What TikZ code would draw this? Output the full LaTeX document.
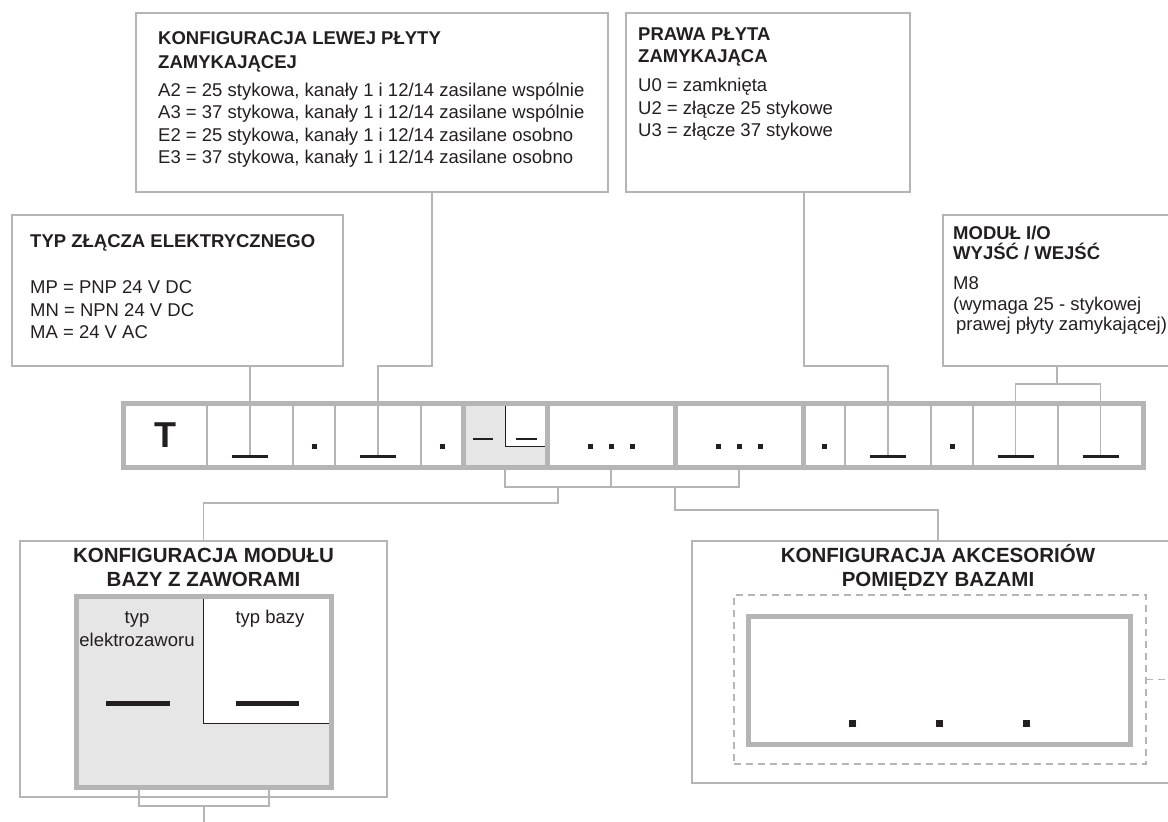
\documentclass[tikz,border=0pt]{standalone}
\usepackage{fontspec}
\setmainfont{Liberation Sans}
\definecolor{LineGray}{HTML}{B5B5B5}
\definecolor{FillGray}{HTML}{E6E6E6}
\definecolor{InkBlack}{HTML}{231F20}
\usetikzlibrary{positioning, calc}
\tikzset{
    % Frames
    infobox/.style={
        rectangle,
        draw=LineGray,
        line width=1.6pt,
        inner sep=0pt,
        outer sep=0pt,
        anchor=north west
    },
    thickframe/.style={
        infobox,
        line width=5pt
    },
    dashframe/.style={
        infobox,
        line width=1.5pt,
        dash pattern=on 7pt off 5pt
    },
    % Texts (placed by the baseline of their last line)
    boxtext/.style={
        inner sep=0pt,
        anchor=base west,
        align=left,
        text=InkBlack,
        font=\fontsize{18.5}{22.5}\selectfont
    },
    boxtitle/.style={
        inner sep=0pt,
        anchor=base,
        align=center,
        text=InkBlack,
        font=\fontsize{20.5}{24}\selectfont\bfseries
    },
    % Code cells
    cell/.style={
        rectangle,
        draw=LineGray,
        line width=1.3pt,
        inner sep=0pt,
        outer sep=0pt,
        minimum height=63.5pt,
        text=InkBlack,
        font=\fontsize{36}{36}\selectfont\bfseries
    },
    graycell/.style={
        cell,
        fill=FillGray
    },
    groupframe/.style={
        draw=LineGray,
        line width=5pt
    },
    conn/.style={
        draw=LineGray,
        line width=1.6pt
    },
    blank/.style={
        draw=InkBlack,
        line width=2.6pt
    },
    thinink/.style={
        draw=InkBlack,
        line width=0.9pt
    }
}

\begin{document}
\begin{tikzpicture}[x=1pt, y=-1pt]
    \useasboundingbox (0,0) rectangle (1168,822);
    \clip (0,0) rectangle (1168,822);

    % Top boxes
    \node[infobox, minimum width=472, minimum height=179] (lewa) at (136,13) {};
    \node[boxtext] (lewatxt) at (158,163.5) {
        \textbf{KONFIGURACJA LEWEJ PŁYTY}\\[1.5pt]
        \textbf{ZAMYKAJĄCEJ}\\[5.5pt]
        A2 = 25 stykowa, kanały 1 i 12/14 zasilane wspólnie\\
        A3 = 37 stykowa, kanały 1 i 12/14 zasilane wspólnie\\
        E2 = 25 stykowa, kanały 1 i 12/14 zasilane osobno\\
        E3 = 37 stykowa, kanały 1 i 12/14 zasilane osobno
    };

    \node[infobox, minimum width=284, minimum height=179] (prawa) at (626,13) {};
    \node[boxtext] (prawatxt) at (638,136.5) {
        \textbf{PRAWA PŁYTA}\\
        \textbf{ZAMYKAJĄCA}\\[6.5pt]
        U0 = zamknięta\\
        U2 = złącze 25 stykowe\\
        U3 = złącze 37 stykowe
    };

    \node[infobox, minimum width=331, minimum height=151] (typ) at (12,215) {};
    \node[boxtext] (typtxt) at (30,338.5) {
        \textbf{TYP ZŁĄCZA ELEKTRYCZNEGO}\\[23.5pt]
        MP = PNP 24 V DC\\
        MN = NPN 24 V DC\\
        MA = 24 V AC
    };

    \node[infobox, minimum width=260, minimum height=151] (modul) at (943,215) {};
    \node[boxtext, font=\fontsize{18.5}{20.5}\selectfont] (modultxt) at (953,330.5) {
        \textbf{MODUŁ I/O}\\
        \textbf{WYJŚĆ / WEJŚĆ}\\[9.5pt]
        M8\\
        (wymaga 25 - stykowej\\
        \hspace*{3pt}prawej płyty zamykającej)
    };

    % Code bar
    \node[cell, minimum width=83.5] (c1) at (165.25,435.25) {T};
    \foreach \i/\xa/\xb/\st in {2/207/293/cell, 3/293/335/cell, 4/335/421/cell,
        5/421/463/cell, 6/463/547/graycell, 7/547/675/cell, 8/675/803/cell,
        9/803/845/cell, 10/845/931/cell, 11/931/973/cell, 12/973/1058/cell,
        13/1058/1143/cell}
        \node[\st, minimum width={(\xb-\xa)*1pt}] (c\i) at ({(\xa+\xb)/2},435.25) {};

    \fill[white] (c6.north) rectangle ([yshift=-10.75pt]c6.east);
    \draw[thinink] (c6.north) |- ([yshift=-10.75pt]c6.east);

    \draw[groupframe] (c1.north west) rectangle (c5.south east);
    \draw[groupframe] (c6.north west) rectangle (c6.south east);
    \draw[groupframe] (c7.north west) rectangle (c7.south east);
    \draw[groupframe] (c8.north west) rectangle (c8.south east);
    \draw[groupframe] (c9.north west) rectangle (c13.south east);

    \foreach \i in {2,4,10,12,13}
        \coordinate (u\i) at ([yshift=-21pt]c\i.center);

    % Connectors from the top
    \coordinate (lewaknee) at (432,366);
    \coordinate (prawaknee) at (804,366);
    \coordinate (modulknee) at (1057,384);
    \draw[conn] (typ.south -| u2) -- (u2);
    \draw[conn] (lewa.south -| lewaknee) -- (lewaknee) -| (u4);
    \draw[conn] (prawa.south -| prawaknee) -- (prawaknee) -| (u10);
    \draw[conn] (modul.south -| modulknee) -- (modulknee);
    \draw[conn] (u12) |- (modulknee) -| (u13);

    % Cell marks
    \foreach \i in {2,4,10,12,13}
        \draw[blank] ([xshift=-18pt]u\i) -- ([xshift=18pt]u\i);
    \foreach \i in {3,5,9,11}
        \fill[InkBlack] ([yshift=-11pt]c\i.center) ++(-2.5,-2.5) rectangle ++(5,5);
    \foreach \i in {7,8}
        \foreach \dx in {-21,0,21}
            \fill[InkBlack] ([xshift=\dx pt,yshift=-11pt]c\i.center) ++(-2.5,-2.5) rectangle ++(5,5);
    \draw[blank, line width=2pt] ([xshift=-32pt,yshift=-3.75pt]c6.center) -- ++(20,0);
    \draw[blank, line width=2pt] ([xshift=11pt,yshift=-3.75pt]c6.center) -- ++(21,0);

    % Bottom boxes
    \node[infobox, minimum width=367, minimum height=256] (baza) at (20,541) {};
    \node[boxtitle] (bazatitle) at (203.5,586.5) {KONFIGURACJA MODUŁU\\BAZY Z ZAWORAMI};
    \node[thickframe, fill=FillGray, minimum width=254.5, minimum height=191] (bazain) at (76.5,596) {};
    \fill[white] (203,598.5) rectangle (328.5,723);
    \draw[thinink] (203,598.5) -- (203,723) -- (328.5,723);
    \node[boxtext, anchor=base, align=center] (bazazawor) at (137,646) {typ\\elektrozaworu};
    \node[boxtext, anchor=base] (bazatyp) at (270,623) {typ bazy};
    \draw[blank, line width=5pt] (106,703) -- (170,703);
    \draw[blank, line width=5pt] (236,703) -- (299,703);

    \node[infobox, minimum width=492, minimum height=242] (akces) at (692,541) {};
    \node[boxtitle] (akcestitle) at (938,586.5) {KONFIGURACJA AKCESORIÓW\\POMIĘDZY BAZAMI};
    \node[dashframe, minimum width=412, minimum height=169] (akcesdash) at (734,595) {};
    \draw[LineGray, line width=1.5pt, dash pattern=on 7pt off 5pt] (akcesdash.east) -- ++(40,0);
    \node[thickframe, minimum width=382, minimum height=128] (akcesin) at (748.5,616.5) {};
    \foreach \px in {852,939,1026}
        \fill[InkBlack] (\px,723) ++(-3.5,-3.5) rectangle ++(7,7);

    % Connectors to the bottom
    \coordinate (brl) at (558,487);
    \coordinate (brr) at (675,487);
    \draw[conn] (c6.south) -- (c6.south |- brl) -| (c8.south);
    \draw[conn] (c7.south) -- (c7.south |- brl);
    \draw[conn] (brl) -- ++(0,16) -| (baza.north);
    \draw[conn] (brr) -- ++(0,23) -| (akces.north);

    \coordinate (bazafoot) at (203.75,806);
    \draw[conn] ([xshift=-65pt]bazain.south) -- ([xshift=-65pt]bazain.south |- bazafoot) -| ([xshift=65pt]bazain.south);
    \draw[conn] (bazafoot) -- ++(0,20);
\end{tikzpicture}
\end{document}
